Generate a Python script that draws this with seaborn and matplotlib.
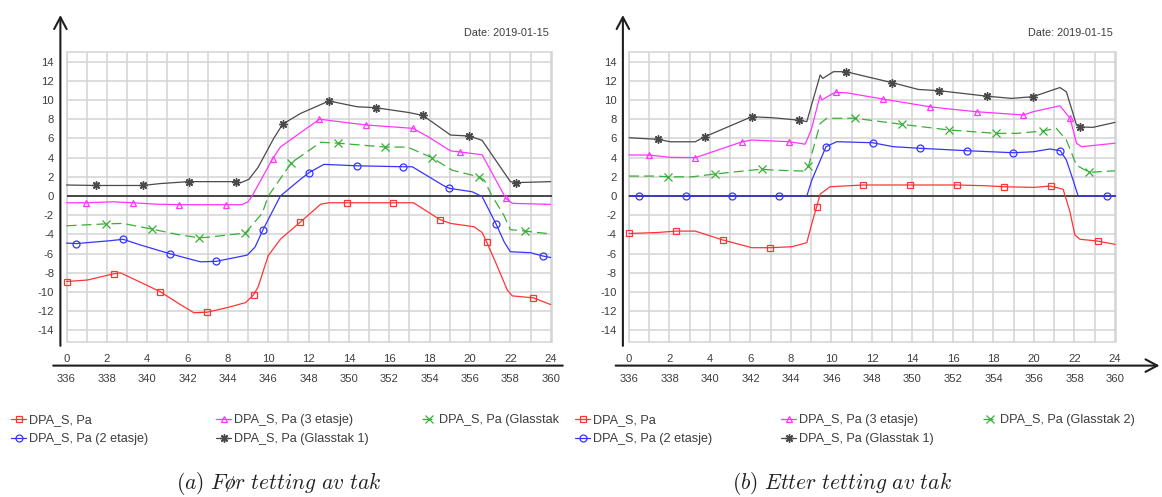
import matplotlib
matplotlib.use("Agg")
import matplotlib.pyplot as plt
import seaborn as sns
from matplotlib.lines import Line2D
from matplotlib.ticker import FixedLocator
from matplotlib.transforms import Bbox, TransformedBbox

sns.set_style("white")
plt.rcParams["font.family"] = ["Liberation Sans", "DejaVu Sans"]
plt.rcParams["axes.unicode_minus"] = False
plt.rcParams["mathtext.fontset"] = "cm"

# ---------------------------------------------------------------- data
# Hours of the day on the upper scale, hour-of-period on the lower scale
hour_ticks = [0, 2, 4, 6, 8, 10, 12, 14, 16, 18, 20, 22, 24]
period_labels = [336, 338, 340, 342, 344, 346, 348, 350, 352, 354, 356, 358, 360]
odd_hours = [1, 3, 5, 7, 9, 11, 13, 15, 17, 19, 21, 23]
y_ticks = [-14, -12, -10, -8, -6, -4, -2, 0, 2, 4, 6, 8, 10, 12, 14]

series_keys = ["base", "floor2", "floor3", "roof1", "roof2"]
series_labels = {
    "base": "DPA_S, Pa",
    "floor2": "DPA_S, Pa (2 etasje)",
    "floor3": "DPA_S, Pa (3 etasje)",
    "roof1": "DPA_S, Pa (Glasstak 1)",
    "roof2": "DPA_S, Pa (Glasstak 2)",
}

# Logged marker instants (hours) for each sensor
marker_times = {
    "base": [0, 2.33, 4.64, 6.96, 9.27, 11.57, 13.89, 16.2, 18.51, 20.82, 23.14],
    "floor2": [0.48, 2.8, 5.11, 7.42, 9.73, 12.03, 14.39, 16.7, 18.98, 21.3, 23.62],
    "floor3": [0.98, 3.28, 5.6, 7.9, 10.22, 12.54, 14.85, 17.17, 19.48, 21.78],
    "roof1": [1.45, 3.77, 6.06, 8.38, 10.72, 13.01, 15.32, 17.66, 19.96, 22.28],
    "roof2": [1.95, 4.25, 6.56, 8.86, 11.15, 13.48, 15.8, 18.11, 20.43, 22.73],
}

# (a) before sealing the roof
before_base_t = [0, 1.03, 2.33, 2.68, 4.64, 5.6, 6.31, 6.96, 8.0, 8.87, 9.27, 9.5, 10.0, 10.6,
                 11.57, 12.6, 13.0, 13.89, 16.2, 17.2, 18.51, 19.04, 20.2, 20.6, 20.82, 21.35,
                 21.85, 22.1, 23.14, 24]
before_base_v = [-8.9, -8.75, -8.1, -8.0, -9.95, -11.25, -12.15, -12.1, -11.6, -11.1, -10.3, -9.45,
                 -6.2, -4.5, -2.75, -0.85, -0.7, -0.7, -0.7, -0.7, -2.45, -2.85, -3.2, -3.8, -4.75,
                 -7.3, -9.8, -10.4, -10.6, -11.3]
before_floor2_t = [0, 0.48, 2.18, 2.8, 3.67, 5.11, 6.64, 7.42, 8.96, 9.35, 9.73, 10.6, 11.6, 12.03,
                   12.76, 14.39, 16.7, 17.14, 18.7, 18.98, 20.1, 20.6, 21.3, 21.7, 22.0, 23.0, 23.62, 24]
before_floor2_v = [-4.9, -4.95, -4.65, -4.5, -5.1, -6.0, -6.85, -6.8, -6.15, -5.3, -3.55, 0.0, 1.75,
                   2.45, 3.3, 3.15, 3.05, 3.05, 1.07, 0.8, 0.45, -0.05, -2.95, -4.8, -5.8, -5.9,
                   -6.25, -6.4]
before_floor3_t = [0, 0.98, 2.3, 3.28, 4.5, 5.6, 7.9, 8.7, 9.0, 9.2, 10.22, 10.6, 11.6, 12.54, 14.85,
                   17.17, 17.9, 19.04, 19.48, 20.6, 21.78, 22.1, 24]
before_floor3_v = [-0.7, -0.7, -0.6, -0.7, -0.85, -0.9, -0.9, -0.9, -0.6, 0.0, 3.9, 5.1, 6.6, 8.0,
                   7.4, 7.05, 6.2, 4.7, 4.6, 4.3, -0.25, -0.76, -0.87]
before_roof1_t = [0, 1.45, 3.77, 4.66, 6.06, 8.38, 8.63, 9.04, 9.5, 10.27, 10.72, 11.6, 13.01, 14.4,
                  15.32, 16.96, 17.66, 19.04, 19.96, 20.6, 22.0, 22.28, 24]
before_roof1_v = [1.15, 1.1, 1.1, 1.3, 1.5, 1.5, 1.38, 1.74, 3.0, 6.0, 7.5, 8.6, 9.9, 9.3, 9.2, 8.7,
                  8.4, 6.35, 6.25, 5.8, 1.5, 1.4, 1.5]
before_roof2_t = [0, 1.95, 2.8, 4.25, 5.5, 6.56, 6.97, 8.86, 9.7, 10.0, 11.15, 12.6, 13.48, 15.8,
                  16.9, 18.11, 19.1, 20.43, 20.7, 21.07, 21.68, 22.0, 22.73, 23.8, 24]
before_roof2_v = [-3.1, -2.9, -2.85, -3.45, -4.0, -4.35, -4.3, -3.85, -1.8, 0.0, 3.47, 5.6, 5.5,
                  5.1, 5.1, 4.0, 2.7, 2.0, 1.67, 0.1, -2.0, -3.5, -3.65, -3.9, -3.95]

# (b) after sealing the roof
after_base_t = [0, 1.38, 2.33, 3.27, 4.64, 6.07, 6.96, 8.04, 8.78, 9.03, 9.27, 9.44, 9.93, 11.57,
                13.89, 16.2, 17.66, 18.51, 19.96, 20.82, 21.44, 21.77, 22.02, 22.27, 23.14, 24]
after_base_v = [-3.9, -3.8, -3.65, -3.65, -4.58, -5.38, -5.38, -5.28, -4.86, -2.85, -1.1, 0.2, 0.97,
                1.15, 1.15, 1.15, 1.07, 0.97, 0.9, 1.04, 0.7, -1.6, -4.06, -4.5, -4.69, -5.03]
after_floor2_t = [0, 0.48, 2.8, 5.11, 7.42, 8.78, 9.03, 9.73, 10.26, 12.03, 13.05, 14.39, 16.7,
                  18.98, 19.96, 20.78, 21.3, 21.6, 21.93, 22.18, 23.62, 24]
after_floor2_v = [0, 0, 0, 0, 0, 0, 1.67, 5.14, 5.66, 5.55, 5.14, 4.97, 4.72, 4.51, 4.61, 4.9, 4.72,
                  3.75, 1.67, 0, 0, 0]
after_floor3_t = [0, 0.98, 2.04, 3.28, 5.6, 6.07, 7.9, 8.7, 9.0, 9.44, 9.52, 10.0, 10.22, 10.75,
                  12.54, 14.85, 15.85, 17.17, 19.48, 19.96, 21.28, 21.78, 22.1, 22.35, 24]
after_floor3_v = [4.27, 4.27, 4.03, 4.0, 5.66, 5.83, 5.66, 5.4, 6.9, 10.5, 10.0, 10.6, 10.8, 10.75,
                  10.1, 9.3, 9.06, 8.78, 8.44, 8.78, 9.4, 8.1, 5.5, 5.14, 5.5]
after_roof1_t = [0, 1.45, 2.04, 3.27, 3.77, 6.06, 7.13, 8.38, 8.78, 9.44, 9.57, 10.1, 10.72, 11.4,
                 13.01, 14.29, 15.32, 17.66, 18.9, 19.96, 21.28, 21.6, 22.1, 22.28, 22.9, 24]
after_roof1_v = [6.07, 5.9, 5.65, 5.65, 6.2, 8.26, 8.15, 7.9, 7.75, 12.6, 12.25, 12.95, 12.95, 12.6,
                 11.8, 11.1, 10.97, 10.4, 10.17, 10.35, 11.3, 10.85, 7.4, 7.2, 7.15, 7.67]
after_roof2_t = [0, 1.38, 1.95, 3.1, 4.25, 6.56, 7.13, 8.6, 8.86, 9.44, 9.77, 11.15, 13.48, 15.8,
                 18.11, 19.14, 20.43, 21.1, 21.6, 22.1, 22.73, 24]
after_roof2_v = [2.08, 2.08, 2.0, 2.0, 2.3, 2.8, 2.7, 2.6, 3.1, 7.55, 8.1, 8.1, 7.47, 6.88, 6.53,
                 6.53, 6.77, 7.05, 5.83, 3.2, 2.47, 2.63]

panel_before = {
    "base": (before_base_t, before_base_v),
    "floor2": (before_floor2_t, before_floor2_v),
    "floor3": (before_floor3_t, before_floor3_v),
    "roof1": (before_roof1_t, before_roof1_v),
    "roof2": (before_roof2_t, before_roof2_v),
}
panel_after = {
    "base": (after_base_t, after_base_v),
    "floor2": (after_floor2_t, after_floor2_v),
    "floor3": (after_floor3_t, after_floor3_v),
    "roof1": (after_roof1_t, after_roof1_v),
    "roof2": (after_roof2_t, after_roof2_v),
}

date_text = "Date: 2019-01-15"
captions = [r"$\mathit{(a)\ Før\ tetting\ av\ tak}$", r"$\mathit{(b)\ Etter\ tetting\ av\ tak}$"]

# ---------------------------------------------------------------- styling
TXT = "#3d3d3d"
AXC = "#1e1e1e"
GRID = "#d3d3d3"
TICK_FS = 8.1
styles = {
    "base": dict(color="#ff3535", marker="s", ls="-", ms=5.0, mew=0.9),
    "floor2": dict(color="#3535ff", marker="o", ls="-", ms=5.0, mew=0.9),
    "floor3": dict(color="#ff35ff", marker="^", ls="-", ms=5.0, mew=0.9),
    "roof1": dict(color="#4a4a4a", marker=(8, 2, 0), ls="-", ms=6.0, mew=1.0),
    "roof2": dict(color="#36b036", marker="x", ls=(0, (8, 4)), ms=5.5, mew=0.9),
}

W, H = 1162, 497
fig = plt.figure(figsize=(W / 100, H / 100), dpi=100)


def rect_px(left, top, right, bottom):
    return [left / W, 1 - bottom / H, (right - left) / W, (bottom - top) / H]


def draw_panel(ax, data, x_line_end, x_arrow):
    ax.set_xlim(0, 24.05)
    ax.set_ylim(-15.2, 15.0)
    ax.patch.set_edgecolor(GRID)
    ax.patch.set_linewidth(1.1)

    ax.set_xticks(hour_ticks)
    ax.set_xticklabels([str(p) for p in period_labels])
    ax.xaxis.set_minor_locator(FixedLocator(odd_hours))
    ax.set_yticks(y_ticks)
    ax.set_yticklabels([str(v) for v in y_ticks])

    for sp in ax.spines.values():
        sp.set_visible(False)
    ax.spines["left"].set_position(("outward", 4.4))
    ax.spines["bottom"].set_position(("outward", 17))

    ax.tick_params(axis="x", which="major", length=0, pad=6.0, labelsize=TICK_FS, labelcolor=TXT)
    ax.tick_params(axis="x", which="minor", direction="in", length=2.6, width=1.0, color=AXC)
    ax.tick_params(axis="y", which="major", direction="inout", length=8.3, width=1.0,
                   color=AXC, pad=0.4, labelsize=TICK_FS, labelcolor=TXT)

    ax.grid(True, which="both", axis="x", color=GRID, lw=1.1)
    ax.grid(True, which="major", axis="y", color=GRID, lw=1.1)
    ax.set_axisbelow(True)
    ax.axhline(0, color=AXC, lw=1.1, zorder=1.5)

    for key in series_keys:
        t, v = data[key]
        st = styles[key]
        idx = [t.index(m) for m in marker_times[key]]
        sns.lineplot(x=t, y=v, ax=ax, estimator=None, sort=False, legend=False,
                     color=st["color"], lw=0.9, linestyle=st["ls"], marker=st["marker"],
                     markevery=idx, ms=st["ms"], mec=st["color"], mfc="none", mew=st["mew"],
                     clip_on=False, zorder=3)

    ax.set_xlabel("")
    ax.set_ylabel("")

    # axis lines drawn on the offset spine positions
    ytr = ax.get_yaxis_transform(which="tick1")
    ax.annotate("", xy=(0, 18.85), xytext=(0, -15.6), xycoords=ytr, textcoords=ytr,
                arrowprops=dict(arrowstyle="->,head_length=0.85,head_width=0.45", lw=1.5,
                                color=AXC, shrinkA=0, shrinkB=0),
                annotation_clip=False)
    xtr = ax.get_xaxis_transform(which="tick1")
    style = "->,head_length=0.85,head_width=0.45" if x_arrow else "-"
    ax.annotate("", xy=(x_line_end, 0), xytext=(-0.66, 0), xycoords=xtr, textcoords=xtr,
                arrowprops=dict(arrowstyle=style, lw=1.5, color=AXC, shrinkA=0, shrinkB=0),
                annotation_clip=False)
    for h in hour_ticks:
        ax.annotate(str(h), xy=(h, 0), xycoords=xtr, xytext=(0, 2.4),
                    textcoords="offset points", ha="center", va="baseline",
                    fontsize=TICK_FS, color=TXT, annotation_clip=False)


ax_a = fig.add_axes(rect_px(66.5, 52, 551.7, 342))
ax_b = fig.add_axes(rect_px(629, 52, 1116, 342))
draw_panel(ax_a, panel_before, 24.6, False)
draw_panel(ax_b, panel_after, 26.2, True)

fig.text(549 / W, 1 - 33 / H, date_text, ha="right", va="center", fontsize=7.8, color=TXT)
fig.text(1113 / W, 1 - 33 / H, date_text, ha="right", va="center", fontsize=7.8, color=TXT)


def handle(key):
    st = styles[key]
    return Line2D([0], [0], color=st["color"], lw=0.9, ls=st["ls"], marker=st["marker"],
                  ms=st["ms"], mec=st["color"], mfc="none", mew=st["mew"])


def add_legend(keys, x_px, top_px, clip_right=None):
    leg = fig.legend(handles=[handle(k) for k in keys], labels=[series_labels[k] for k in keys],
                     loc="upper left", bbox_to_anchor=(x_px / W, 1 - top_px / H),
                     frameon=False, fontsize=9.1, handlelength=1.2, handletextpad=0.22,
                     labelspacing=0.55, borderpad=0, borderaxespad=0, labelcolor=TXT)
    if clip_right is not None:
        box = TransformedBbox(Bbox([[0, 0], [clip_right / W, 1]]), fig.transFigure)
        for txt in leg.get_texts():
            txt.set_clip_box(box)
            txt.set_clip_on(True)
    return leg


legend_top = 414.5
add_legend(["base", "floor2"], 11, legend_top)
add_legend(["floor3", "roof1"], 216, legend_top)
add_legend(["roof2"], 421.5, legend_top, clip_right=561)
add_legend(["base", "floor2"], 575, legend_top)
add_legend(["floor3", "roof1"], 781, legend_top)
add_legend(["roof2"], 982.5, legend_top)

fig.text(279 / W, 1 - 483.5 / H, captions[0], ha="center", va="center", fontsize=15.5, color="#222222")
fig.text(842 / W, 1 - 483.5 / H, captions[1], ha="center", va="center", fontsize=15.5, color="#222222")

fig.savefig("out.png", dpi=100)
